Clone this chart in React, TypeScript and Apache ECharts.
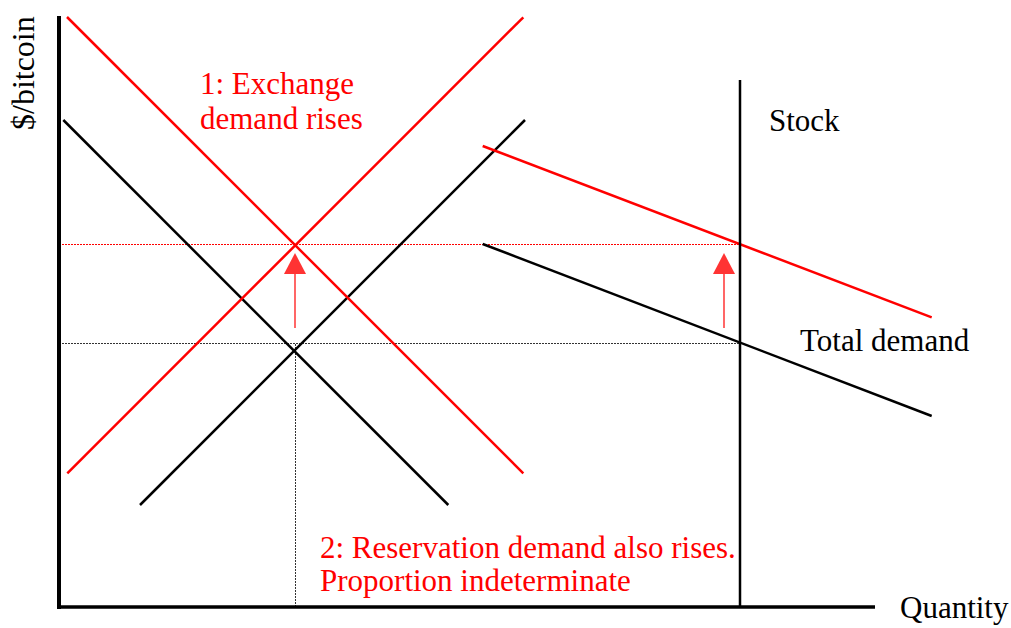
import React, { useEffect, useRef } from "react";
import * as echarts from "echarts";

// Diagram data (quantity on x, $/bitcoin on y)
const xMax = 891;
const yMax = 591;
const axisXEnd = 816;
const exchangeDemandOld: number[][] = [[4.3, 487], [389.3, 102]];
const exchangeDemandNew: number[][] = [[8, 590], [464.3, 133.7]];
const exchangeSupplyOld: number[][] = [[81, 102], [466, 487]];
const exchangeSupplyNew: number[][] = [[8.3, 133.7], [464.3, 589.7]];
const totalDemandOld: number[][] = [[423.7, 363], [872.7, 191]];
const totalDemandNew: number[][] = [[423.7, 461], [872.7, 289.7]];
const stockQty = 681;
const stockTop = 527;
const priceOld = 263.5;
const priceNew = 362.5;
const exchangeQty = 236.5;
const arrowXs = [236, 665];
const arrowShaft = [279, 333];
const arrowHeadCenter = 343.5;

const labelsExchange = ["1: Exchange", "demand rises"];
const labelsReservation = ["2: Reservation demand also rises.", "Proportion indeterminate"];
const labelStock = "Stock";
const labelTotal = "Total demand";
const labelX = "Quantity";
const labelY = "$/bitcoin";

const RED = "#ff0000";
const BLACK = "#000000";
const FONT = "'Liberation Serif', 'Times New Roman', serif";

function seg(data: number[][], color: string, width: number, type: any = "solid", z = 3) {
  return {
    type: "line",
    data,
    symbol: "none",
    clip: false,
    silent: true,
    lineStyle: { color, width, type, cap: "butt" },
    z,
  };
}

function txt(text: string, x: number, y: number, color: string, size = 31, extra: any = {}) {
  return {
    type: "text",
    x,
    y,
    style: {
      text,
      fill: color,
      font: `${size}px ${FONT}`,
      textAlign: "left",
      textVerticalAlign: "middle",
      verticalAlign: "middle",
    },
    ...extra,
  };
}

export default function App() {
  const ref = useRef<HTMLDivElement>(null);
  useEffect(() => {
    if (!ref.current) return;
    const chart = echarts.init(ref.current, undefined, { renderer: "svg" });
    const series: any[] = [
      seg([[0, priceNew], [stockQty, priceNew]], RED, 1, [2, 1], 2),
      seg([[0, priceOld], [stockQty, priceOld]], "#333333", 1, [2, 1], 2),
      seg([[exchangeQty, 0], [exchangeQty, priceOld]], "#333333", 1, [2, 1], 2),
      seg(exchangeDemandOld, BLACK, 2.5),
      seg(exchangeSupplyOld, BLACK, 2.5),
      seg(exchangeDemandNew, RED, 2.5),
      seg(exchangeSupplyNew, RED, 2.5),
      seg(totalDemandOld, BLACK, 2.5),
      seg(totalDemandNew, RED, 2.5),
      seg([[stockQty, 0], [stockQty, stockTop]], BLACK, 2.5),
      seg([[0, -2], [0, yMax]], BLACK, 4, "solid", 5),
      seg([[-2, 0], [axisXEnd, 0]], BLACK, 3.6, "solid", 5),
    ];
    arrowXs.forEach((ax) => {
      series.push(seg([[ax, arrowShaft[0]], [ax, arrowShaft[1]]], RED, 1.2));
    });
    series.push({
      type: "scatter",
      data: arrowXs.map((ax) => [ax, arrowHeadCenter]),
      symbol: "triangle",
      symbolSize: [22, 21],
      itemStyle: { color: RED },
      silent: true,
      clip: false,
      z: 4,
    });
    chart.setOption({
      animation: false,
      backgroundColor: "#ffffff",
      grid: { left: 59, right: 61, top: 16, bottom: 21 },
      xAxis: {
        type: "value",
        min: 0,
        max: xMax,
        axisLine: { show: false },
        axisTick: { show: false },
        axisLabel: { show: false },
        splitLine: { show: false },
      },
      yAxis: {
        type: "value",
        min: 0,
        max: yMax,
        axisLine: { show: false },
        axisTick: { show: false },
        axisLabel: { show: false },
        splitLine: { show: false },
      },
      series,
      graphic: [
        txt(labelsExchange[0], 200, 83, RED),
        txt(labelsExchange[1], 200, 118, RED),
        txt(labelsReservation[0], 320, 547, RED),
        txt(labelsReservation[1], 320, 580, RED),
        txt(labelStock, 769, 120, BLACK),
        txt(labelTotal, 800, 340, BLACK),
        txt(labelX, 900, 607, BLACK),
        txt(labelY, 23, 130, BLACK, 32, { rotation: Math.PI / 2 }),
      ],
    });
    return () => chart.dispose();
  }, []);
  return (
    <div
      ref={ref}
      style={{ position: "absolute", left: 0, top: 0, width: 1011, height: 628 }}
    />
  );
}
